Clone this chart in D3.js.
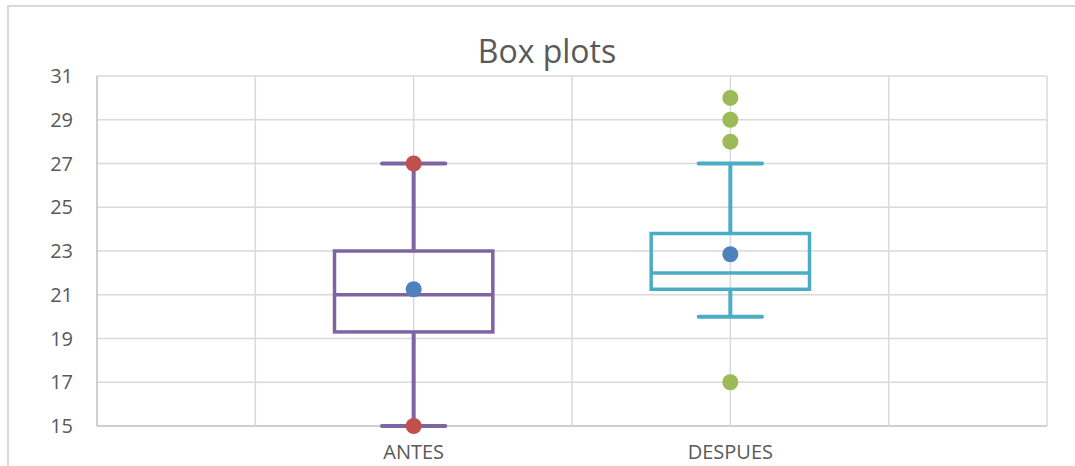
<!DOCTYPE html>
<html>
<head>
<meta charset="utf-8">
<script src="https://cdn.jsdelivr.net/npm/d3@7"></script>
<style>
  body { margin: 0; background: #fff; }
  text { font-family: "Open Sans", "Liberation Sans", sans-serif; fill: #595959; }
</style>
</head>
<body>
<div id="graphic"></div>
<script>
// data
var categories = ["ANTES", "DESPUES"];
var catX = [1, 2];
var whiskerLow = [15, 20];
var q1 = [19.3, 21.25];
var median = [21, 22];
var q3 = [23, 23.8];
var whiskerHigh = [27, 27];
var means = [21.25, 22.85];
var extremes = [[15, 27], []];          // red markers on ANTES
var outliers = [[], [30, 29, 28, 17]];  // green markers on DESPUES
var yTicks = [15, 17, 19, 21, 23, 25, 27, 29, 31];
var xGrid = [0, 0.5, 1, 1.5, 2, 2.5, 3];

var boxColors = ["#8064a2", "#4bacc6"];
var width = 1075, height = 466;
var margin = {top: 76, right: 28, bottom: 40, left: 97};

var svg = d3.select("#graphic").append("svg")
	.attr("width", width)
	.attr("height", height);

// chart frame
svg.append("rect")
	.attr("x", 8).attr("y", 6)
	.attr("width", 1080).attr("height", 480)
	.attr("fill", "none")
	.attr("stroke", "#d9d9d9")
	.attr("stroke-width", 2);

var x = d3.scaleLinear().domain([0, 3]).range([margin.left, width - margin.right]);
var y = d3.scaleLinear().domain([15, 31]).range([height - margin.bottom, margin.top]);

var grid = svg.append("g").attr("class", "grid");

grid.selectAll(".hgrid")
	.data(yTicks)
	.enter().append("line")
	.attr("x1", x(0)).attr("x2", x(3))
	.attr("y1", function(d) { return y(d); })
	.attr("y2", function(d) { return y(d); })
	.attr("stroke", function(d) { return d === 15 ? "#bfbfbf" : "#d9d9d9"; })
	.attr("stroke-width", 1.5);

grid.selectAll(".vgrid")
	.data(xGrid)
	.enter().append("line")
	.attr("y1", y(15)).attr("y2", y(31))
	.attr("x1", function(d) { return x(d); })
	.attr("x2", function(d) { return x(d); })
	.attr("stroke", function(d) { return d === 0 ? "#bfbfbf" : "#d9d9d9"; })
	.attr("stroke-width", 1.5);

// y axis labels
svg.append("g").selectAll("text")
	.data(yTicks)
	.enter().append("text")
	.attr("x", 73)
	.attr("y", function(d) { return y(d); })
	.attr("dy", "0.36em")
	.attr("text-anchor", "end")
	.style("font-size", "20px")
	.text(function(d) { return d; });

// category labels
svg.append("g").selectAll("text")
	.data(categories)
	.enter().append("text")
	.attr("x", function(d, i) { return x(catX[i]); })
	.attr("y", 459)
	.attr("text-anchor", "middle")
	.style("font-size", "20px")
	.text(function(d) { return d; });

// title
svg.append("text")
	.attr("x", 547)
	.attr("y", 63)
	.attr("text-anchor", "middle")
	.style("font-size", "32px")
	.text("Box plots");

var boxHalf = 0.25, capHalf = 0.1;

var boxes = svg.append("g").selectAll("g")
	.data(categories)
	.enter().append("g")
	.each(function(d, i) {
		var g = d3.select(this);
		var cx = x(catX[i]);
		var col = boxColors[i];
		// whiskers
		g.append("line")
			.attr("x1", cx).attr("x2", cx)
			.attr("y1", y(q3[i])).attr("y2", y(whiskerHigh[i]))
			.attr("stroke", col).attr("stroke-width", 4);
		g.append("line")
			.attr("x1", cx).attr("x2", cx)
			.attr("y1", y(q1[i])).attr("y2", y(whiskerLow[i]))
			.attr("stroke", col).attr("stroke-width", 4);
		[whiskerHigh[i], whiskerLow[i]].forEach(function(v) {
			g.append("line")
				.attr("x1", x(catX[i] - capHalf)).attr("x2", x(catX[i] + capHalf))
				.attr("y1", y(v)).attr("y2", y(v))
				.attr("stroke", col).attr("stroke-width", 4)
				.attr("stroke-linecap", "round");
		});
		// box
		g.append("rect")
			.attr("x", x(catX[i] - boxHalf))
			.attr("y", y(q3[i]))
			.attr("width", x(catX[i] + boxHalf) - x(catX[i] - boxHalf))
			.attr("height", y(q1[i]) - y(q3[i]))
			.attr("fill", "none")
			.attr("stroke", col).attr("stroke-width", 3.5);
		g.append("line")
			.attr("x1", x(catX[i] - boxHalf)).attr("x2", x(catX[i] + boxHalf))
			.attr("y1", y(median[i])).attr("y2", y(median[i]))
			.attr("stroke", col).attr("stroke-width", 3.5);
		// mean
		g.append("circle")
			.attr("cx", cx).attr("cy", y(means[i]))
			.attr("r", 8).attr("fill", "#4f81bd");
		g.selectAll(".ext")
			.data(extremes[i])
			.enter().append("circle")
			.attr("cx", cx).attr("cy", function(v) { return y(v); })
			.attr("r", 8).attr("fill", "#c0504d");
		g.selectAll(".out")
			.data(outliers[i])
			.enter().append("circle")
			.attr("cx", cx).attr("cy", function(v) { return y(v); })
			.attr("r", 8).attr("fill", "#9bbb59");
	});
</script>
</body>
</html>
